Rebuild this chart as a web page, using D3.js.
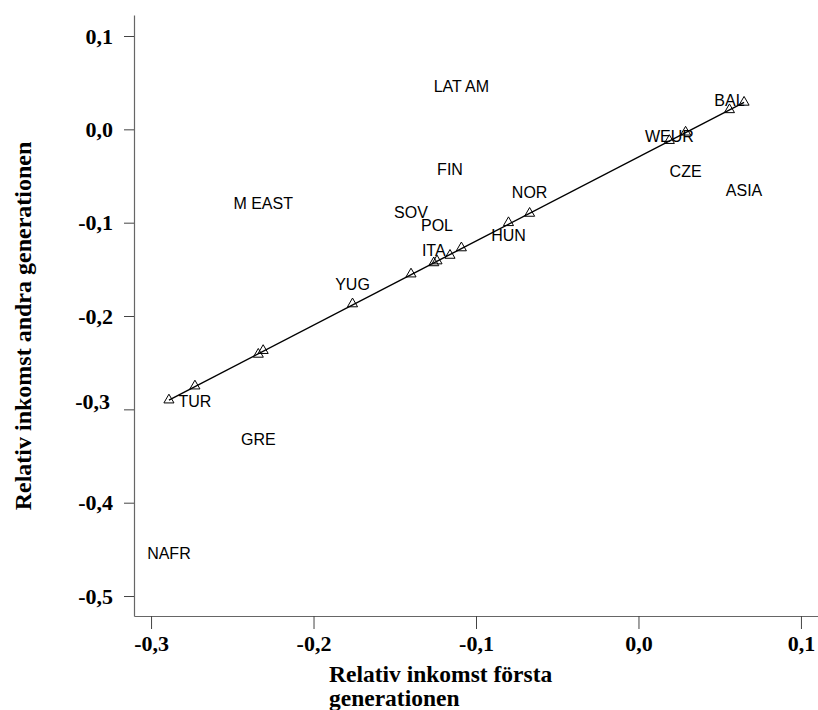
<!DOCTYPE html>
<html>
<head>
<meta charset="utf-8">
<script src="https://cdn.jsdelivr.net/npm/d3@7"></script>
<style>
  html, body { margin: 0; padding: 0; background: #fff; }
  svg { display: block; }
</style>
</head>
<body>
<svg id="chart" width="818" height="710"></svg>
<script>
// ---- data ----
const countries = ["NAFR","TUR","GRE","M EAST","YUG","SOV","ITA","POL","FIN","LAT AM","HUN","NOR","WEUR","CZE","BAL","ASIA"];
const firstGen  = [-0.289,-0.273,-0.234,-0.231,-0.176,-0.140,-0.126,-0.124,-0.116,-0.109,-0.080,-0.067,0.019,0.029,0.056,0.065];
const secondGen = [-0.454,-0.292,-0.332,-0.079,-0.166,-0.089,-0.130,-0.103,-0.043,0.046,-0.114,-0.068,-0.008,-0.045,0.031,-0.066];
const fitted    = [-0.290,-0.275,-0.241,-0.237,-0.187,-0.155,-0.143,-0.141,-0.135,-0.127,-0.100,-0.090,-0.012,-0.003,0.021,0.029];
const xTicks = [-0.3,-0.2,-0.1,0.0,0.1];
const yTicks = [0.1,0.0,-0.1,-0.2,-0.3,-0.4,-0.5];
const xTitleLines = ["Relativ inkomst första","generationen"];
const yTitle = "Relativ inkomst andra generationen";

const svg = d3.select("#chart");
const W = 818, H = 710;
svg.append("rect").attr("width", W).attr("height", H).attr("fill", "#fff");

const x = d3.scaleLinear().domain([-0.3105, 0.1105]).range([134, 818]);
const y = d3.scaleLinear().domain([-0.5214, 0.1225]).range([616, 15]);
const fmt = v => d3.format(".1f")(v).replace(".", ",").replace("−", "-");

const serif = "'Liberation Serif','Times New Roman',serif";
const sans = "'Liberation Sans',Arial,sans-serif";

// Y axis
const gy = svg.append("g").attr("transform", `translate(${x.range()[0]},0)`)
  .call(d3.axisLeft(y).tickValues(yTicks).tickSize(10).tickSizeOuter(0).tickPadding(11).tickFormat(fmt));
// X axis
const gx = svg.append("g").attr("transform", `translate(0,${y.range()[0]})`)
  .call(d3.axisBottom(x).tickValues(xTicks).tickSize(13).tickSizeOuter(0).tickPadding(6).tickFormat(fmt));

[gx, gy].forEach(g => {
  g.select(".domain").attr("stroke", "#666").attr("stroke-width", 1.2);
  g.selectAll(".tick line").attr("stroke", "#444").attr("stroke-width", 1);
  g.selectAll(".tick text").attr("fill", "#000")
    .style("font-family", serif).style("font-weight", "bold").style("font-size", "22px");
});
// the "-0,3" label on the y axis sits a little higher in the reference
gy.selectAll(".tick text").filter(d => Math.abs(d + 0.3) < 1e-9)
  .attr("transform", "translate(-3,-8)");

// Axis titles
const xt = svg.append("text")
  .attr("x", 329).attr("y", 682)
  .style("font-family", serif).style("font-weight", "bold").style("font-size", "23.5px")
  .attr("fill", "#000");
xt.selectAll("tspan").data(xTitleLines).join("tspan")
  .attr("x", 329).attr("dy", (d, i) => i === 0 ? 0 : 24).text(d => d);

svg.append("text")
  .attr("transform", "translate(31,326) rotate(-90)")
  .attr("text-anchor", "middle")
  .style("font-family", serif).style("font-weight", "bold").style("font-size", "24px")
  .attr("fill", "#000")
  .text(yTitle);

// Regression line through fitted values
const pts = countries.map((c, i) => ({c, fx: firstGen[i], sy: secondGen[i], fit: fitted[i]}));
const sorted = pts.slice().sort((a, b) => a.fx - b.fx);
const ends = [sorted[0], sorted[sorted.length - 1]];
svg.append("path")
  .datum(ends)
  .attr("d", d3.line().x(d => x(d.fx)).y(d => y(d.fit)))
  .attr("fill", "none").attr("stroke", "#000").attr("stroke-width", 1.4);

// Triangles at fitted values
svg.append("g").selectAll("path").data(pts).join("path")
  .attr("transform", d => `translate(${x(d.fx)},${y(d.fit)})`)
  .attr("d", d3.symbol().type(d3.symbolTriangle).size(44))
  .attr("fill", "none").attr("stroke", "#000").attr("stroke-width", 1);

// Country labels at observed values
svg.append("g").selectAll("text").data(pts).join("text")
  .attr("x", d => x(d.fx)).attr("y", d => y(d.sy))
  .attr("text-anchor", "middle").attr("dominant-baseline", "central")
  .style("font-family", sans).style("font-size", "16px")
  .attr("fill", "#000")
  .text(d => d.c);
</script>
</body>
</html>
